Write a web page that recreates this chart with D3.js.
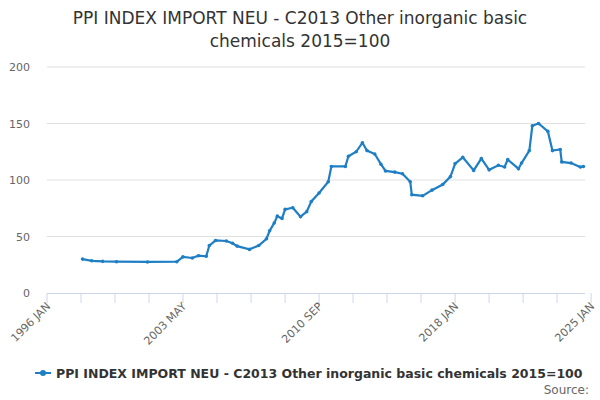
<!DOCTYPE html>
<html><head><meta charset="utf-8">
<script src="https://cdn.jsdelivr.net/npm/d3@7"></script>
<style>body{margin:0;font-family:"DejaVu Sans",sans-serif;}</style>
</head><body><div id="chart"></div>
<script>
var dates = ["1997-12","1998-06","1999-01","1999-10","2001-06","2003-01","2003-05","2003-11","2004-03","2004-08","2004-10","2005-02","2005-09","2006-01","2006-04","2006-12","2007-06","2007-11","2008-01","2008-04","2008-06","2008-09","2008-11","2009-04","2009-09","2010-01","2010-04","2010-09","2011-03","2011-05","2012-02","2012-04","2012-09","2013-01","2013-04","2013-09","2014-01","2014-04","2014-10","2015-03","2015-08","2015-09","2016-04","2016-10","2017-05","2017-10","2018-01","2018-06","2019-01","2019-06","2019-11","2020-05","2020-09","2020-11","2021-06","2021-08","2022-01","2022-03","2022-07","2023-01","2023-04","2023-09","2023-10","2024-04","2024-10","2024-12"];
var values = [30,28.5,28,27.7,27.5,27.7,32,31,33,32.5,42,46.5,46,44,41.5,38.6,42,48,55,62,68,66,74,75.5,67.5,72,81,88.5,98.5,112,112,121,125,133,126,123,114,108,107,105.5,98.5,87,86,91,96,103,114.5,120,108.5,119,109,113,111.5,118,110,115,126,148,150,143,126,127,116,115,111.5,112];
var yTicks = [0,50,100,150,200];
var xLabels = ["1996 JAN","2003 MAY","2010 SEP","2018 JAN","2025 JAN"];
var title = ["PPI INDEX IMPORT NEU - C2013 Other inorganic basic","chemicals 2015=100"];
var seriesName = "PPI INDEX IMPORT NEU - C2013 Other inorganic basic chemicals 2015=100";

var parse = d3.timeParse("%Y-%m");
var data = dates.map((d, i) => ({date: parse(d), value: values[i]}));
var pLeft = 47, pRight = 585, pTop = 67, pBottom = 293;
var svg = d3.select("#chart").append("svg").attr("width", 600).attr("height", 400);

var x = d3.scaleTime().domain([parse("1996-01"), parse("2025-01")]).range([pLeft, pRight]);
var y = d3.scaleLinear().domain([0, 200]).range([pBottom, pTop]);

svg.selectAll(".title").data(title).enter().append("text")
    .attr("x", 300).attr("y", (d, i) => 24 + i * 23)
    .attr("text-anchor", "middle").style("font-size", "17px").style("fill", "#333")
    .text(d => d);

// grid + y labels
svg.append("g").selectAll("line").data(yTicks.slice(1)).enter().append("line")
    .attr("x1", pLeft).attr("x2", pRight).attr("y1", d => y(d)).attr("y2", d => y(d))
    .style("stroke", "#e0e0e0");
svg.append("g").selectAll("text").data(yTicks).enter().append("text")
    .attr("x", 30).attr("y", d => y(d) + 4).attr("text-anchor", "end")
    .style("font-size", "11px").style("fill", "#666").text(d => d);

// x axis: minor ticks every 22 months, label every 4th
var tickDates = d3.range(0, 17).map(i => d3.timeMonth.offset(parse("1996-01"), i * 22));
var ax = svg.append("g");
ax.append("line").attr("x1", pLeft).attr("x2", pRight).attr("y1", pBottom + 0.5).attr("y2", pBottom + 0.5).style("stroke", "#ccd6eb");
ax.selectAll(".tk").data(tickDates).enter().append("line")
    .attr("x1", d => x(d)).attr("x2", d => x(d)).attr("y1", pBottom).attr("y2", pBottom + 10)
    .style("stroke", "#ccd6eb");
ax.selectAll(".lb").data(xLabels).enter().append("text")
    .attr("transform", (d, i) => `translate(${x(tickDates[i * 4]) + 4},${pBottom + 14}) rotate(-45)`)
    .attr("text-anchor", "end").style("font-size", "11px").style("fill", "#666").text(d => d);

var color = "#1f7fc4";
var line = d3.line().x(d => x(d.date)).y(d => y(d.value));
svg.append("path").datum(data).attr("d", line)
    .style("fill", "none").style("stroke", color).style("stroke-width", 2.2);
svg.append("g").selectAll("circle").data(data).enter().append("circle")
    .attr("cx", d => x(d.date)).attr("cy", d => y(d.value)).attr("r", 1.8).style("fill", color);

// legend
var lg = svg.append("g").attr("transform", "translate(35,373)");
lg.append("line").attr("x1", 0).attr("x2", 16).attr("y1", 0).attr("y2", 0).style("stroke", color).style("stroke-width", 2);
lg.append("circle").attr("cx", 8).attr("cy", 0).attr("r", 3).style("fill", color);
lg.append("text").attr("x", 21).attr("y", 4.5).style("font-size", "12.5px").style("font-weight", "bold").style("fill", "#333").text(seriesName);
svg.append("text").attr("x", 589).attr("y", 394).attr("text-anchor", "end").style("font-size", "12px").style("fill", "#666").text("Source:");
</script></body></html>
